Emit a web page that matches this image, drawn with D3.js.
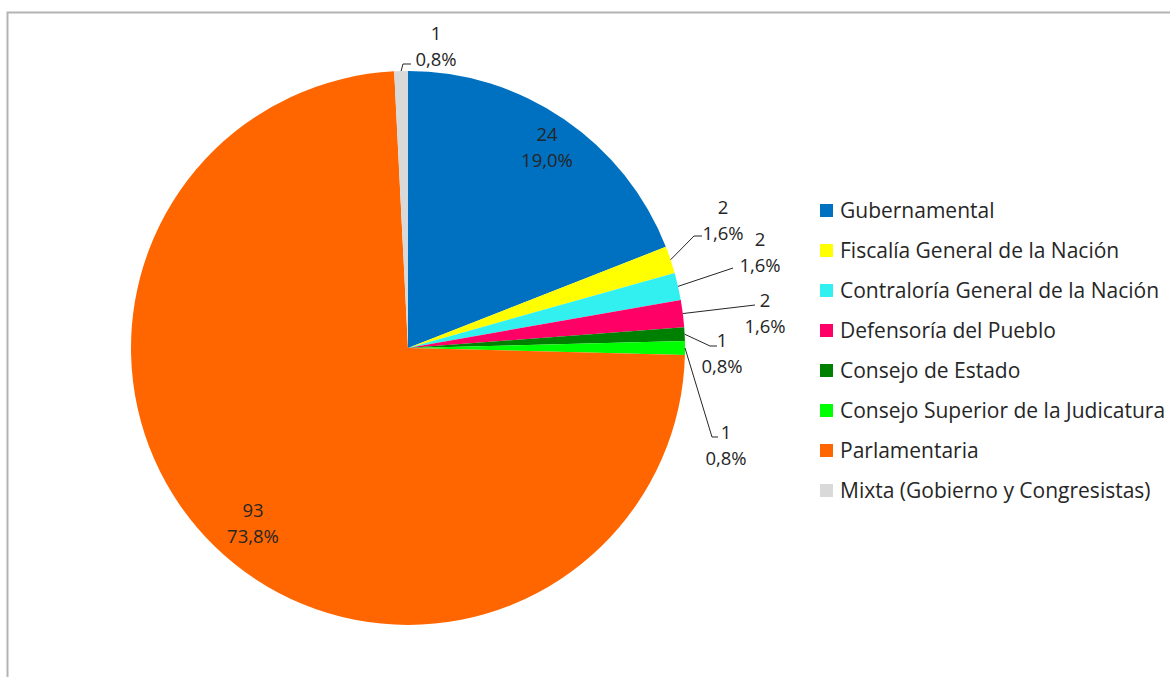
<!DOCTYPE html>
<html lang="en">
<head>
    <meta charset="UTF-8">
    <title>Pie</title>
    <script src="https://d3js.org/d3.v7.min.js"></script>
    <style>
        body { margin: 0; background: #fff; }
        text { font-family: "Open Sans", Lato, sans-serif; fill: #262626; }
        .data-label { font-size: 18.5px; text-anchor: middle; }
        .legend text { font-size: 21px; }
    </style>
</head>
<body>
    <div id="chart"></div>
    <script>
        const categories = [
            "Gubernamental",
            "Fiscalía General de la Nación",
            "Contraloría General de la Nación",
            "Defensoría del Pueblo",
            "Consejo de Estado",
            "Consejo Superior de la Judicatura",
            "Parlamentaria",
            "Mixta (Gobierno y Congresistas)"
        ];
        const counts = [24, 2, 2, 2, 1, 1, 93, 1];
        const colors = ["#0070c0", "#ffff00", "#33f0f0", "#ff0066", "#008000", "#00ff00", "#ff6600", "#d9d9d9"];

        // label placement (text centre x, first baseline y, leader elbow / end)
        const labelLayout = [
            { x: 547, y: 141 },
            { x: 723, y: 214, elbow: [694, 236], end: [702, 236] },
            { x: 760, y: 246, elbow: [733, 268], end: [733, 268] },
            { x: 765, y: 307, elbow: [755, 305], end: [755, 305] },
            { x: 722, y: 347, elbow: [710, 346], end: [717, 346] },
            { x: 726, y: 439, elbow: [712, 437], end: [718, 437] },
            { x: 253, y: 517 },
            { x: 436, y: 40, elbow: [403, 64], end: [411, 64] }
        ];

        const width = 1170, height = 677;
        const cx = 408, cy = 348, radius = 277;

        const svg = d3.select("#chart").append("svg")
            .attr("width", width)
            .attr("height", height);

        // frame
        svg.append("path")
            .attr("d", `M7.5,${height} V12.5 H${width}`)
            .attr("fill", "none")
            .attr("stroke", "#b3b3b3")
            .attr("stroke-width", 2);

        const data = categories.map((c, i) => ({ name: c, value: counts[i], color: colors[i], i }));
        const total = d3.sum(counts);
        const fmt = v => (v / total * 100).toFixed(1).replace(".", ",") + "%";

        const pie = d3.pie().sort(null).value(d => d.value);
        const arcs = pie(data);
        const arc = d3.arc().innerRadius(0).outerRadius(radius);

        const g = svg.append("g").attr("transform", `translate(${cx},${cy})`);

        g.selectAll("path")
            .data(arcs)
            .enter().append("path")
            .attr("d", arc)
            .attr("fill", d => d.data.color);

        // leader lines
        arcs.forEach(d => {
            const lay = labelLayout[d.data.i];
            if (!lay.elbow) return;
            const mid = (d.startAngle + d.endAngle) / 2;
            const sx = cx + radius * Math.sin(mid), sy = cy - radius * Math.cos(mid);
            svg.append("polyline")
                .attr("points", [[sx, sy], lay.elbow, lay.end].map(p => p.join(",")).join(" "))
                .attr("fill", "none")
                .attr("stroke", "#262626")
                .attr("stroke-width", 1);
        });

        // data labels
        arcs.forEach(d => {
            const lay = labelLayout[d.data.i];
            const t = svg.append("text").attr("class", "data-label");
            t.append("tspan").attr("x", lay.x).attr("y", lay.y).text(d.data.value);
            t.append("tspan").attr("x", lay.x).attr("y", lay.y + 26).text(fmt(d.data.value));
        });

        // legend
        const legend = svg.append("g").attr("class", "legend")
            .selectAll("g")
            .data(data)
            .enter().append("g")
            .attr("transform", (d, i) => `translate(820,${211 + i * 40})`);

        legend.append("rect")
            .attr("x", 0).attr("y", -7)
            .attr("width", 13).attr("height", 13)
            .attr("fill", d => d.color);

        legend.append("text")
            .attr("x", 20)
            .attr("dy", "0.35em")
            .text(d => d.name);
    </script>
</body>
</html>
